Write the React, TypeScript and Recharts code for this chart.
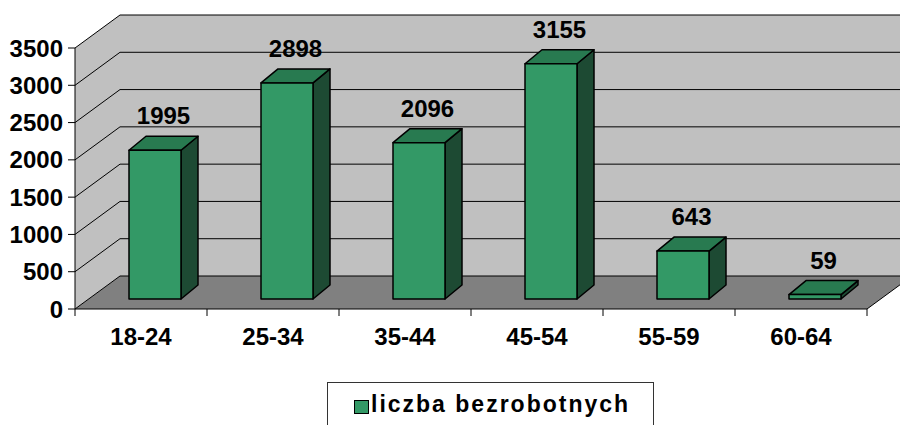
import React from "react";
import {
  BarChart,
  Bar,
  XAxis,
  YAxis,
  CartesianGrid,
  LabelList,
  Legend,
} from "recharts";

const categories = ["18-24", "25-34", "35-44", "45-54", "55-59", "60-64"];
const unemployed = [1995, 2898, 2096, 3155, 643, 59];
const yTicks = [0, 500, 1000, 1500, 2000, 2500, 3000, 3500];
const seriesName = "liczba bezrobotnych";

const W = 900;
const H = 425;
const MARGIN = { top: 48, right: 33, bottom: 86, left: 15 };
const Y_AXIS_W = 60;
const X_AXIS_H = 30;

// plot area (front plane)
const PL = MARGIN.left + Y_AXIS_W;
const PR = W - MARGIN.right;
const PT = MARGIN.top;
const PB = H - MARGIN.bottom - X_AXIS_H;
const BAND = (PR - PL) / categories.length;

// depth of the 3d box
const DX = 45;
const DY = 33;
// bars sit a bit behind the front plane
const SX = 14;
const SY = 10;
// depth of a single bar
const BDX = 17;
const BDY = 14;

const FONT = "'Liberation Sans', Arial, sans-serif";
const GREEN = "#339966";
const GREEN_TOP = "#287a50";
const GREEN_SIDE = "#1d4a33";

const data = categories.map((c, i) => ({ category: c, value: unemployed[i] }));

const Bar3D = (props: any) => {
  const { x, y, width, height } = props;
  const fx = x + SX;
  const fy = y - SY;
  const h = Math.max(height, 0);
  return (
    <g stroke="#000" strokeWidth={1.5} strokeLinejoin="round">
      <polygon
        points={`${fx + width},${fy} ${fx + width + BDX},${fy - BDY} ${fx + width + BDX},${fy + h - BDY} ${fx + width},${fy + h}`}
        fill={GREEN_SIDE}
      />
      <polygon
        points={`${fx},${fy} ${fx + BDX},${fy - BDY} ${fx + width + BDX},${fy - BDY} ${fx + width},${fy}`}
        fill={GREEN_TOP}
      />
      <rect x={fx} y={fy} width={width} height={h} fill={GREEN} />
    </g>
  );
};

const ValueLabel = (props: any) => {
  const { x, y, width, value } = props;
  return (
    <text
      x={x + SX + width / 2 + BDX / 2}
      y={y - SY - BDY - 12}
      textAnchor="middle"
      fontFamily={FONT}
      fontWeight="bold"
      fontSize={24}
      fill="#000"
    >
      {value}
    </text>
  );
};

const GridLine = (props: any) => {
  const { x1, x2, y1 } = props;
  return (
    <g key={`grid-${props.index}`} stroke="#000" strokeWidth={1}>
      <line x1={x1} y1={y1} x2={x1 + DX} y2={y1 - DY} />
      <line x1={x1 + DX} y1={y1 - DY} x2={x2 + DX} y2={y1 - DY} />
    </g>
  );
};

const XTick = (props: any) => {
  const { x, y, payload, index } = props;
  const left = x - BAND / 2;
  return (
    <g>
      <line x1={left} y1={y} x2={left} y2={y + 7} stroke="#000" />
      {index === categories.length - 1 && (
        <line x1={x + BAND / 2} y1={y} x2={x + BAND / 2} y2={y + 7} stroke="#000" />
      )}
      <text
        x={x}
        y={y + 36}
        textAnchor="middle"
        fontFamily={FONT}
        fontWeight="bold"
        fontSize={24}
        fill="#000"
      >
        {payload.value}
      </text>
    </g>
  );
};

const LegendBox = () => (
  <div
    style={{
      position: "relative",
      width: 327,
      height: 60,
      border: "1px solid #333",
      boxSizing: "border-box",
      background: "#fff",
      fontFamily: FONT,
    }}
  >
    <span
      style={{
        position: "absolute",
        left: 26,
        top: 17,
        width: 13,
        height: 12,
        background: GREEN,
        border: "1px solid #000",
      }}
    />
    <span
      style={{
        position: "absolute",
        left: 43,
        top: 10,
        fontSize: 23,
        lineHeight: "23px",
        fontWeight: "bold",
        letterSpacing: 2,
        whiteSpace: "nowrap",
        color: "#000",
      }}
    >
      {seriesName}
    </span>
  </div>
);

export default function App() {
  return (
    <div style={{ position: "absolute", left: 0, top: 0, width: W, height: H, background: "#fff", overflow: "hidden" }}>
      {/* walls and floor behind the chart */}
      <svg width={W} height={H} style={{ position: "absolute", left: 0, top: 0 }}>
        <polygon points={`${PL},${PT} ${PL + DX},${PT - DY} ${PL + DX},${PB - DY} ${PL},${PB}`} fill="#c0c0c0" />
        <polygon points={`${PL + DX},${PT - DY} ${PR + DX},${PT - DY} ${PR + DX},${PB - DY} ${PL + DX},${PB - DY}`} fill="#c0c0c0" />
        <polygon points={`${PL},${PB} ${PL + DX},${PB - DY} ${PR + DX},${PB - DY} ${PR},${PB}`} fill="#808080" />
        <line x1={PR} y1={PB} x2={PR + DX} y2={PB - DY} stroke="#000" />
      </svg>
      <div style={{ position: "absolute", left: 0, top: 0 }}>
        <BarChart width={W} height={H} data={data} margin={MARGIN}>
          <CartesianGrid vertical={false} horizontal={GridLine} />
          <XAxis
            dataKey="category"
            height={X_AXIS_H}
            axisLine={{ stroke: "#000" }}
            tickLine={false}
            tickSize={0}
            tickMargin={0}
            tick={XTick}
            interval={0}
          />
          <YAxis
            width={Y_AXIS_W}
            domain={[0, 3500]}
            ticks={yTicks}
            interval={0}
            axisLine={{ stroke: "#000" }}
            tickLine={{ stroke: "#000" }}
            tickSize={7}
            tickMargin={5}
            tick={{ fontFamily: FONT, fontWeight: "bold", fontSize: 24, fill: "#000" }}
          />
          <Legend
            layout="horizontal"
            verticalAlign="middle"
            align="center"
            content={<LegendBox />}
            wrapperStyle={{ left: 327, top: 382, width: 327, height: 60 }}
          />
          <Bar
            dataKey="value"
            name={seriesName}
            barSize={52}
            shape={Bar3D}
            isAnimationActive={false}
          >
            <LabelList dataKey="value" content={ValueLabel} />
          </Bar>
        </BarChart>
      </div>
    </div>
  );
}
